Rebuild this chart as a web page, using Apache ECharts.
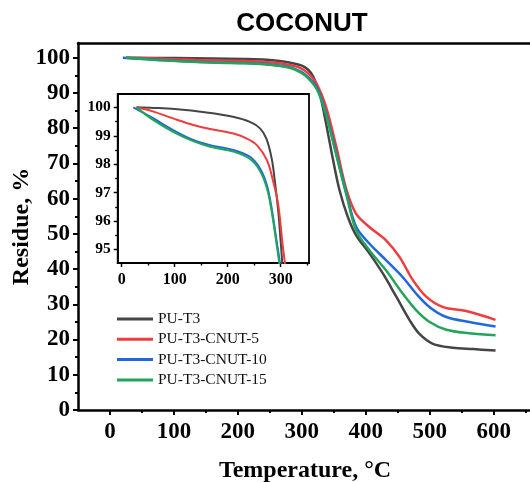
<!DOCTYPE html>
<html>
<head>
<meta charset="utf-8">
<style>
  html, body { margin: 0; padding: 0; background: #fff; }
  #chart { width: 530px; height: 482px; }
</style>
<script src="https://cdn.jsdelivr.net/npm/echarts@6/dist/echarts.min.js"></script>
</head>
<body>
<div id="chart"></div>
<script>
// series names and colours
const names = ['PU-T3', 'PU-T3-CNUT-5', 'PU-T3-CNUT-10', 'PU-T3-CNUT-15'];
const colors = ['#454545', '#f03c3c', '#2268dc', '#22a55a'];

// main plot: [temperature, residue %]
const mainPUT3 = [[25,100],[100,99.94],[160,99.8],[210,99.65],[245,99.45],[265,99.1],[282,98.6],[300,97.8],[310,96.6],[318,94.6],[328,89.8],[338,81.3],[349,70.9],[359,62.4],[372,54.8],[385,49.6],[406,44.4],[427,38.7],[448,32.1],[469,25.4],[484,21.6],[505,18.8],[536,17.7],[568,17.3],[603,16.9]];
const mainCNUT5 = [[25,100],[60,99.85],[100,99.6],[135,99.38],[167,99.24],[210,99.08],[236,98.9],[255,98.67],[270,98.3],[285,97.8],[298,97.1],[310,95.6],[323,92.7],[338,86],[354,74.7],[370,62.4],[385,55.7],[406,51.9],[432,48.1],[453,43.4],[474,36.8],[495,32.1],[521,29.2],[557,28.1],[603,25.6]];
const mainCNUT10 = [[20,100],[60,99.6],[97,99.2],[135,98.85],[167,98.67],[210,98.5],[242,98.26],[261,97.9],[275,97.5],[290,96.8],[305,95.3],[323,91.7],[338,84.2],[354,72.8],[370,61.4],[385,52],[406,47.2],[432,42.5],[458,37.7],[479,33],[500,29.2],[526,26.4],[562,25],[603,23.7]];
const mainCNUT15 = [[25,100],[60,99.55],[97,99.14],[135,98.81],[167,98.61],[210,98.44],[242,98.18],[261,97.8],[275,97.4],[290,96.6],[305,95],[323,91.2],[338,83.7],[354,72.3],[370,60.9],[385,51],[406,45.3],[432,39.6],[458,33],[479,28.3],[500,25],[526,22.8],[562,21.8],[603,21.2]];

// inset (zoom of 94.5-100.5 %)
const insetPUT3 = [[28,100],[60,99.98],[100,99.94],[160,99.82],[210,99.67],[242,99.49],[261,99.26],[273,98.9],[283,98.2],[289,97.4],[295.6,96.3],[299,95.5],[303,94.5],[304,94]];
const insetCNUT5 = [[28,100],[60,99.85],[97,99.61],[135,99.38],[167,99.24],[211,99.08],[236,98.9],[255,98.67],[274,98.14],[286,97.38],[295.5,96.56],[303.7,95.15],[308,94.5],[309,94.2]];
const insetCNUT10 = [[22,100],[60,99.61],[97,99.2],[135,98.85],[167,98.67],[211,98.5],[242,98.26],[261,97.85],[274,97.26],[283,96.44],[292.5,95.27],[298.7,94.5],[300,94.2]];
const insetCNUT15 = [[28,100],[60,99.55],[97,99.14],[135,98.81],[167,98.61],[211,98.44],[242,98.18],[261,97.76],[274,97.15],[283,96.33],[292.5,95.15],[297.4,94.5],[299,94.2]];

// ticks
const mainXTicks = [0, 100, 200, 300, 400, 500, 600];
const mainXMinor = [50, 150, 250, 350, 450, 550, 650];
const mainYTicks = [0, 10, 20, 30, 40, 50, 60, 70, 80, 90, 100];
const mainYMinor = [5, 15, 25, 35, 45, 55, 65, 75, 85, 95];
const insetXTicks = [0, 100, 200, 300];
const insetXMinor = [50, 150, 250, 350];
const insetYTicks = [95, 96, 97, 98, 99, 100];
const insetYMinor = [95.5, 96.5, 97.5, 98.5, 99.5];

const serif = 'Liberation Serif';
const mainData = [mainPUT3, mainCNUT5, mainCNUT10, mainCNUT15];
const insetData = [insetPUT3, insetCNUT5, insetCNUT10, insetCNUT15];

const X_MIN = -50, X_MAX = 660, Y_MIN = 0, Y_MAX = 104.2;
const IX_MIN = -7.5, IX_MAX = 353.4, IY_MIN = 94.52, IY_MAX = 100.47;

function majorX(grid, min, max, ticks, len, fs, margin, lw) {
  return {
    type: 'value', gridIndex: grid, position: 'bottom', min, max,
    splitLine: { show: false },
    axisLine: { show: true, onZero: false, lineStyle: { color: '#000', width: lw } },
    axisTick: { show: true, length: len, customValues: ticks, lineStyle: { color: '#000', width: lw * 0.8 } },
    axisLabel: { show: true, customValues: ticks, margin, color: '#000', fontFamily: serif, fontWeight: 'bold', fontSize: fs }
  };
}
function minorAxis(grid, pos, min, max, ticks, len, lw) {
  return {
    type: 'value', gridIndex: grid, position: pos, min, max,
    splitLine: { show: false },
    axisLine: { show: false, onZero: false },
    axisTick: { show: true, length: len, customValues: ticks, lineStyle: { color: '#000', width: lw } },
    axisLabel: { show: false }
  };
}
function majorY(grid, min, max, ticks, len, fs, margin, lw) {
  return {
    type: 'value', gridIndex: grid, position: 'left', min, max,
    splitLine: { show: false },
    axisLine: { show: true, onZero: false, lineStyle: { color: '#000', width: lw } },
    axisTick: { show: true, length: len, customValues: ticks, lineStyle: { color: '#000', width: lw * 0.8 } },
    axisLabel: { show: true, customValues: ticks, margin, color: '#000', fontFamily: serif, fontWeight: 'bold', fontSize: fs }
  };
}

const xAxis = [
  Object.assign(majorX(0, X_MIN, X_MAX, mainXTicks, 5, 23, 11, 2.5), {
    name: 'Temperature, °C', nameLocation: 'middle', nameGap: 49,
    nameTextStyle: { color: '#000', fontFamily: serif, fontWeight: 'bold', fontSize: 24 }
  }),
  minorAxis(0, 'bottom', X_MIN, X_MAX, mainXMinor, 3, 2),
  {
    type: 'value', gridIndex: 0, position: 'top', min: X_MIN, max: X_MAX,
    splitLine: { show: false }, axisTick: { show: false }, axisLabel: { show: false },
    axisLine: { show: true, onZero: false, lineStyle: { color: '#000', width: 2.5 } }
  },
  majorX(1, IX_MIN, IX_MAX, insetXTicks, 4, 16, 9, 1.8),
  minorAxis(1, 'bottom', IX_MIN, IX_MAX, insetXMinor, 2.5, 1.4)
];
const yAxis = [
  Object.assign(majorY(0, Y_MIN, Y_MAX, mainYTicks, 5, 23, 8, 2.5), {
    name: 'Residue, %', nameLocation: 'middle', nameGap: 44, nameRotate: 90, nameMoveOverlap: false,
    nameTextStyle: { color: '#000', fontFamily: serif, fontWeight: 'bold', fontSize: 24 }
  }),
  minorAxis(0, 'left', Y_MIN, Y_MAX, mainYMinor, 3, 2),
  majorY(1, IY_MIN, IY_MAX, insetYTicks, 4, 15.5, 7, 1.8),
  minorAxis(1, 'left', IY_MIN, IY_MAX, insetYMinor, 2.5, 1.4)
];

const series = [];
names.forEach((name, i) => {
  series.push({
    name, type: 'line', xAxisIndex: 0, yAxisIndex: 0, data: mainData[i],
    showSymbol: false, smooth: 0.35, color: colors[i],
    lineStyle: { width: 2.5, color: colors[i] }, z: 3 + i
  });
});
names.forEach((name, i) => {
  series.push({
    name, type: 'line', xAxisIndex: 3, yAxisIndex: 2, data: insetData[i],
    showSymbol: false, smooth: 0.35, color: colors[i],
    lineStyle: { width: 2, color: colors[i] }, z: 3 + i
  });
});

const chart = echarts.init(document.getElementById('chart'), null, { renderer: 'canvas' });
chart.setOption({
  backgroundColor: '#fff',
  animation: false,
  title: {
    text: 'COCONUT', left: 297, top: 6, textAlign: 'center',
    textStyle: { fontFamily: 'Liberation Sans', fontWeight: 'bold', fontSize: 26, color: '#000' }
  },
  legend: {
    data: names, orient: 'vertical', left: 117, top: 311, padding: 0,
    icon: 'rect', itemWidth: 36, itemHeight: 3, itemGap: 4.3,
    textStyle: { fontFamily: serif, fontSize: 15.5, lineHeight: 15, color: '#111' }
  },
  grid: [
    { left: 78, top: 43, width: 454, height: 367, show: false, outerBoundsMode: 'none', containLabel: false },
    { left: 117.7, top: 94, width: 191.3, height: 169, show: true, outerBoundsMode: 'none', containLabel: false,
      backgroundColor: 'rgba(255,255,255,0)', borderColor: '#000', borderWidth: 1.8 }
  ],
  xAxis, yAxis, series
});
</script>
</body>
</html>
